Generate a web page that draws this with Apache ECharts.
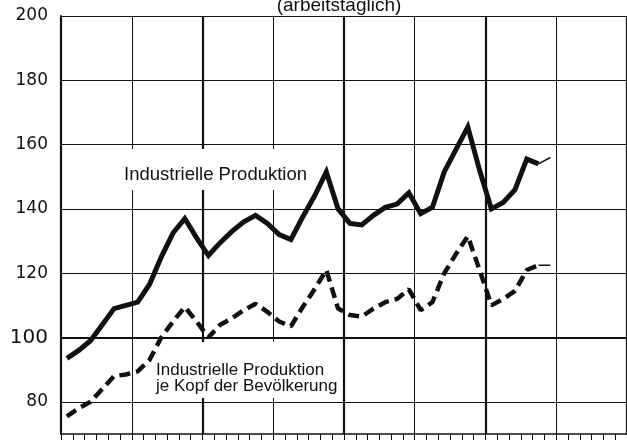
<!DOCTYPE html>
<html>
<head>
<meta charset="utf-8">
<script src="https://cdn.jsdelivr.net/npm/echarts@6/dist/echarts.min.js"></script>
<style>
html, body { margin: 0; padding: 0; background: #fff; }
#main { width: 627px; height: 445px; }
</style>
</head>
<body>
<div id="main"></div>
<script>
// Monatswerte, 4 Jahre
var monthNames = ['Jan', 'Feb', 'Mrz', 'Apr', 'Mai', 'Jun', 'Jul', 'Aug', 'Sep', 'Okt', 'Nov', 'Dez'];
var years = ['1', '2', '3', '4'];

// Industrielle Produktion (arbeitstäglich)
var produktion = [93.5, 96, 99, 104, 109, 110, 111, 116.5, 125, 132.5, 137, 131,
    125.5, 129.5, 133, 136, 138, 135.5, 132, 130.5, 137.5, 144, 151.5, 140,
    135.5, 135, 138, 140.5, 141.5, 145, 138.5, 140.5, 151.5, 158.5, 165.5, 152,
    140, 142, 146, 155.5, 154];
var produktionEnde = [154, 156];   // duenn gezeichnet

// Industrielle Produktion je Kopf der Bevoelkerung
var jeKopf = [75.5, 78, 80, 84, 88, 88.5, 89.5, 93, 100, 105, 109.5, 105,
    100, 104, 106, 108.5, 110.5, 108, 105, 103.5, 109.5, 115, 121, 109,
    107, 106.5, 109, 111, 112, 115, 108.5, 111, 120, 126, 131.5, 121,
    110, 112, 114.5, 121, 122.5];
var jeKopfEnde = [122.5, 122.5];

var categories = [];
years.forEach(function (y) {
    monthNames.forEach(function (m) { categories.push(m + ' ' + y); });
});

function tail(arr, startIdx) {
    var out = [];
    for (var i = 0; i < startIdx; i++) out.push(null);
    return out.concat(arr);
}

var ink = '#111';
var myChart = echarts.init(document.getElementById('main'));

var option = {
    backgroundColor: '#fff',
    animation: false,
    grid: { left: 61, top: 16, width: 569, height: 418 },
    xAxis: [{
        type: 'category',
        data: categories,
        boundaryGap: true,
        axisLine: { lineStyle: { color: ink, width: 1.5 } },
        axisTick: { show: true, interval: 0, length: 6, lineStyle: { color: ink, width: 1 } },
        axisLabel: { show: false },
        splitLine: { show: true, interval: 5, lineStyle: { color: ink, width: 1 } }
    }, {
        // Jahresgrenzen dicker
        type: 'category',
        data: categories,
        position: 'bottom',
        boundaryGap: true,
        axisLine: { show: false },
        axisTick: { show: false },
        axisLabel: { show: false },
        splitLine: { show: true, interval: 11, lineStyle: { color: ink, width: 2.2 } }
    }],
    yAxis: {
        type: 'value',
        min: 70,
        max: 200,
        interval: 10,
        axisLine: { show: true, lineStyle: { color: ink, width: 2 } },
        axisTick: { show: false },
        axisLabel: {
            margin: 13,
            color: ink,
            fontFamily: 'DejaVu Sans',
            formatter: function (v) {
                if (v % 20 !== 0) return '';
                return v === 100 ? '{b|100}' : '{a|' + v + '}';
            },
            rich: {
                a: { fontSize: 17, fontFamily: 'DejaVu Sans', color: ink },
                b: { fontSize: 20, fontFamily: 'DejaVu Sans', color: ink }
            }
        },
        splitLine: { show: true, lineStyle: { color: ['transparent', ink], width: 1 } }
    },
    graphic: [{
        type: 'text',
        x: 339, y: 5.5,
        z: 1,
        style: {
            text: '(arbeitstäglich)',
            font: '19px "Liberation Sans"',
            fill: ink,
            align: 'center',
            verticalAlign: 'middle'
        }
    }, {
        type: 'text',
        left: 118, top: 149,
        z: 1,
        style: {
            text: 'Industrielle Produktion',
            font: '18.5px "Liberation Sans"',
            fill: ink,
            backgroundColor: '#fff',
            padding: [16, 6, 6, 6]
        }
    }, {
        type: 'text',
        left: 152, top: 342,
        z: 1,
        style: {
            text: 'Industrielle Produktion\nje Kopf der Bevölkerung',
            font: '17px "Liberation Sans"',
            lineHeight: 16,
            fill: ink,
            backgroundColor: '#fff',
            padding: [20, 4, 4, 4]
        }
    }],
    series: [{
        name: 'Industrielle Produktion',
        type: 'line',
        xAxisIndex: 0,
        data: produktion,
        symbol: 'none',
        lineStyle: { color: ink, width: 5, cap: 'butt', join: 'miter' },
        z: 3,
        markLine: {
            silent: true,
            symbol: 'none',
            label: { show: false },
            lineStyle: { color: ink, width: 2, type: 'solid' },
            data: [{ yAxis: 100 }]
        }
    }, {
        type: 'line',
        data: tail(produktionEnde, 40),
        symbol: 'none',
        lineStyle: { color: ink, width: 1.5 },
        z: 3
    }, {
        name: 'je Kopf der Bevölkerung',
        type: 'line',
        data: jeKopf,
        symbol: 'none',
        lineStyle: { color: ink, width: 4.5, type: [11, 6], cap: 'butt' },
        z: 3
    }, {
        type: 'line',
        data: tail(jeKopfEnde, 40),
        symbol: 'none',
        lineStyle: { color: ink, width: 1.5 },
        z: 3
    }]
};

myChart.setOption(option);
</script>
</body>
</html>
